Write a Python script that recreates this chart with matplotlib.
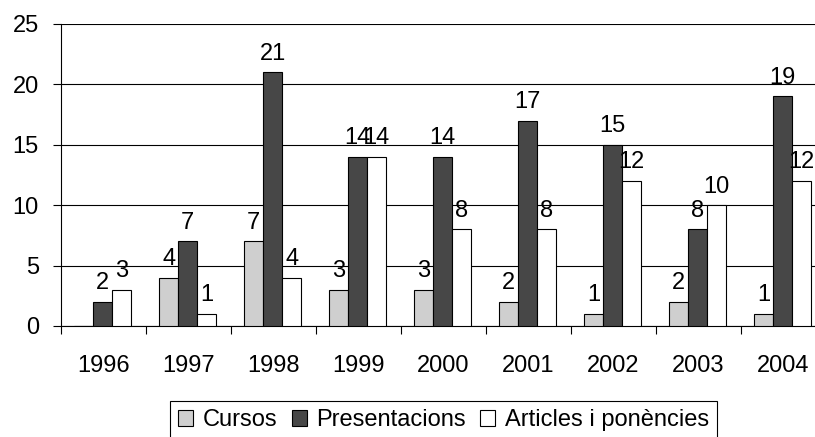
import matplotlib.pyplot as plt
import numpy as np

plt.rcParams['font.family'] = ['Liberation Sans', 'DejaVu Sans']

# Dades
anys = ['1996', '1997', '1998', '1999', '2000', '2001', '2002', '2003', '2004']
cursos = [0, 4, 7, 3, 3, 2, 1, 2, 1]
presentacions = [2, 7, 21, 14, 14, 17, 15, 8, 19]
articles = [3, 1, 4, 14, 8, 8, 12, 10, 12]

series = [
    ('Cursos', cursos, '#cfcfcf'),
    ('Presentacions', presentacions, '#474747'),
    ('Articles i ponències', articles, '#ffffff'),
]

fs = 17

fig = plt.figure(figsize=(8.15, 4.37), dpi=100)
ax = fig.add_axes([61 / 815, 1 - 326 / 437, 765 / 815, 302 / 437])

x = np.arange(len(anys))
w = 0.224

for i, (nom, vals, col) in enumerate(series):
    pos = x + (i - 1) * w - 0.01
    bars = ax.bar(pos, vals, w, color=col, edgecolor='black', linewidth=0.8,
                  label=nom, zorder=3)
    # etiquetes de valor (no es mostren els zeros)
    for b, v in zip(bars, vals):
        if v == 0:
            continue
        ax.annotate(str(v), (b.get_x() + b.get_width() / 2, v),
                    xytext=(0, 5.5), textcoords='offset points',
                    ha='center', va='bottom', fontsize=fs, zorder=4)

ax.set_xlim(-0.5, len(anys) - 0.5)
ax.set_ylim(0, 25)
ax.set_yticks(range(0, 26, 5))
ax.yaxis.grid(True, color='black', linewidth=0.8, zorder=0)
ax.set_axisbelow(True)

# ticks de l'eix x als límits de categoria, etiquetes al centre
ax.set_xticks(np.arange(-0.5, len(anys), 1.0))
ax.set_xticklabels([])
ax.set_xticks(x, minor=True)
ax.set_xticklabels(anys, minor=True)
ax.tick_params(axis='x', which='major', direction='out', length=6, width=0.8, color='black')
ax.tick_params(axis='x', which='minor', length=0, pad=21, labelsize=fs)
ax.tick_params(axis='y', direction='out', length=6, width=0.8, pad=10, labelsize=fs)

for s in ['top', 'right']:
    ax.spines[s].set_visible(False)
ax.spines['left'].set_linewidth(0.8)
ax.spines['bottom'].set_linewidth(0.8)

leg = fig.legend(loc='upper center', bbox_to_anchor=(443.5 / 815, 1 - 401 / 437),
                 ncol=3, fontsize=fs, frameon=True, fancybox=False,
                 edgecolor='black', framealpha=1, borderpad=0.35,
                 handlelength=0.65, handleheight=0.65, handletextpad=0.4,
                 columnspacing=0.6, borderaxespad=0)
leg.get_frame().set_linewidth(0.8)

fig.savefig('out.png', dpi=100)
